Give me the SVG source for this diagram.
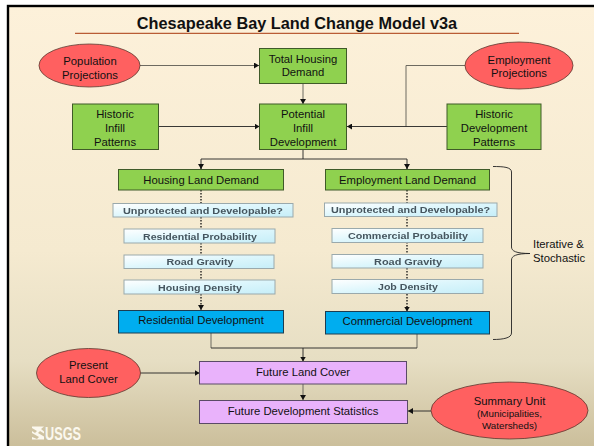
<svg xmlns="http://www.w3.org/2000/svg" width="594" height="446" viewBox="0 0 594 446">
<defs>
<linearGradient id="bg" x1="0" y1="0" x2="0" y2="1">
<stop offset="0" stop-color="#fdf1da"/><stop offset="0.55" stop-color="#f5ead0"/><stop offset="0.8" stop-color="#e6dec3"/><stop offset="1" stop-color="#cabd99"/>
</linearGradient>
<linearGradient id="lb" x1="0" y1="0" x2="1" y2="1">
<stop offset="0" stop-color="#ffffff"/><stop offset="0.5" stop-color="#dcf6fc"/><stop offset="1" stop-color="#c6eef8"/>
</linearGradient>
<marker id="a" markerWidth="6" markerHeight="6" refX="5" refY="3" orient="auto" markerUnits="userSpaceOnUse"><path d="M0 0L5 3L0 6z" fill="#111"/></marker>
<filter id="soft" x="-5%" y="-20%" width="110%" height="140%"><feGaussianBlur stdDeviation="0.35"/></filter>
</defs>
<style>
text{font-family:"Liberation Sans",Arial,sans-serif;font-size:11.3px;fill:#111;text-anchor:middle}
.red{fill:#ff6060;stroke:#5a3a30;stroke-width:.8}
.grn{fill:#8fd14f;stroke:#3f5a28;stroke-width:1}
.blu{fill:#00adef;stroke:#1c3c50;stroke-width:1}
.pur{fill:#e9b2fb;stroke:#5a4a66;stroke-width:1}
.lb{fill:url(#lb);stroke:#9aa9ac;stroke-width:1}
.sm{font-size:9px;font-weight:bold;fill:#45555e;filter:url(#soft)}
.c{fill:none;stroke:#222;stroke-width:.9}
.g{fill:none;stroke:#6d6a60;stroke-width:1}
.d{fill:none;stroke:#111;stroke-width:1.3;stroke-dasharray:1.5 1.5}
</style>
<rect x="0" y="0" width="594" height="446" fill="#fff"/>
<rect x="8" y="6" width="590" height="444" fill="url(#bg)" stroke="#000" stroke-width="2.4"/>
<g id="title">
<text x="297" y="29" style="font-size:16.3px;font-weight:bold">Chesapeake Bay Land Change Model v3a</text>
<line x1="75" y1="33.3" x2="519" y2="33.3" stroke="#a8380c" stroke-width="1"/>
</g>
<g id="connectors">
<path class="g" d="M140 65.5H259" marker-end="url(#a)"/>
<path class="g" d="M303 83V104" marker-end="url(#a)"/>
<path class="c" d="M158.500 126.500H259.500" marker-end="url(#a)"/>
<path class="g" d="M465 65.500H406V126.500"/>
<path class="c" d="M447 126.500H347" marker-end="url(#a)"/>
<path class="c" d="M303 149.500V159M201 169V159H407V169" />
<path d="M201 165V169" marker-end="url(#a)" class="c"/>
<path d="M407 165V169" marker-end="url(#a)" class="c"/>
<path class="d" d="M201 190V203M201 217V229M201 243V255M201 268V280M201 294V306"/>
<path class="c" d="M201 305V310" marker-end="url(#a)"/>
<path class="d" d="M407 190V203M407 216V228M407 242V254M407 268V279M407 294V307"/>
<path class="c" d="M407 306V311.500" marker-end="url(#a)"/>
<path class="g" d="M211 333V348M417 334V348"/>
<path class="c" d="M211 348H417M303 348V361.500" marker-end="url(#a)"/>
<path class="g" d="M303 384V400" marker-end="url(#a)"/>
<path class="c" d="M140.500 373H199.500" marker-end="url(#a)"/>
<path class="c" d="M431 411H408" marker-end="url(#a)"/>
<path class="c" d="M493 166.500C503 166.500 511.500 167 511.500 172V247C511.500 251 516 253.500 530 253.500C516 253.500 511.500 256 511.500 260V333C511.500 338 503 339.500 493 339.500"/>
</g>
<g id="population"><ellipse class="red" cx="89.500" cy="65.500" rx="50.500" ry="21.500"/><text x="90" y="65">Population</text><text x="90" y="79">Projections</text></g>
<g id="total-housing"><rect class="grn" x="259.500" y="48.500" width="87" height="35"/><text x="303" y="62.500">Total Housing</text><text x="303" y="76">Demand</text></g>
<g id="historic-infill"><rect class="grn" x="72.500" y="104" width="86" height="45.500"/><text x="115" y="118">Historic</text><text x="115" y="132">Infill</text><text x="115" y="146">Patterns</text></g>
<g id="potential"><rect class="grn" x="259.500" y="104" width="87" height="45.500"/><text x="303" y="118">Potential</text><text x="303" y="132">Infill</text><text x="303" y="146">Development</text></g>
<g id="employment"><ellipse class="red" cx="519" cy="65.500" rx="54" ry="23.500"/><text x="519" y="64">Employment</text><text x="519" y="77">Projections</text></g>
<g id="historic-dev"><rect class="grn" x="447" y="104" width="94" height="45.500"/><text x="494" y="118">Historic</text><text x="494" y="132">Development</text><text x="494" y="146">Patterns</text></g>
<g id="housing-demand"><rect class="grn" x="118.500" y="169.500" width="165" height="20.500"/><text x="201" y="184">Housing Land Demand</text></g>
<g id="unprotected-r"><rect class="lb" x="113" y="203.500" width="180" height="13.500"/><text class="sm" x="203" y="213.500" textLength="160" lengthAdjust="spacingAndGlyphs">Unprotected and Developable?</text></g>
<g id="res-prob"><rect class="lb" x="124" y="229" width="151" height="14"/><text class="sm" x="200" y="239.500" textLength="114" lengthAdjust="spacingAndGlyphs">Residential Probability</text></g>
<g id="road-r"><rect class="lb" x="124" y="255" width="150" height="13.500"/><text class="sm" x="200" y="265" textLength="67" lengthAdjust="spacingAndGlyphs">Road Gravity</text></g>
<g id="housing-density"><rect class="lb" x="124" y="280" width="151" height="14"/><text class="sm" x="200" y="290.500" textLength="84" lengthAdjust="spacingAndGlyphs">Housing Density</text></g>
<g id="residential"><rect class="blu" x="118.500" y="310.500" width="165" height="22.500"/><text x="201" y="324">Residential Development</text></g>
<g id="employment-demand"><rect class="grn" x="325.500" y="169.500" width="164" height="20.500"/><text x="407.500" y="184">Employment Land Demand</text></g>
<g id="unprotected-c"><rect class="lb" x="324.500" y="203" width="172.500" height="13.500"/><text class="sm" x="410.500" y="212.500" textLength="159" lengthAdjust="spacingAndGlyphs">Unprotected and Developable?</text></g>
<g id="com-prob"><rect class="lb" x="332" y="228.500" width="151" height="14"/><text class="sm" x="408" y="238.500" textLength="120" lengthAdjust="spacingAndGlyphs">Commercial Probability</text></g>
<g id="road-c"><rect class="lb" x="332" y="254.500" width="151" height="13.500"/><text class="sm" x="408" y="264.500" textLength="68" lengthAdjust="spacingAndGlyphs">Road Gravity</text></g>
<g id="job-density"><rect class="lb" x="332" y="279.500" width="151" height="14"/><text class="sm" x="408" y="290" textLength="60" lengthAdjust="spacingAndGlyphs">Job Density</text></g>
<g id="commercial"><rect class="blu" x="325.500" y="311.500" width="164" height="22.500"/><text x="407.500" y="325">Commercial Development</text></g>
<g id="iterative"><text x="533" y="248" style="text-anchor:start">Iterative &amp;</text><text x="533" y="262" style="text-anchor:start">Stochastic</text></g>
<g id="present"><ellipse class="red" cx="88.500" cy="373" rx="52" ry="24.500"/><text x="88.500" y="369">Present</text><text x="88.500" y="383">Land Cover</text></g>
<g id="future-cover"><rect class="pur" x="199.500" y="361.500" width="207" height="22.500"/><text x="303" y="376">Future Land Cover</text></g>
<g id="future-stats"><rect class="pur" x="199.500" y="400.500" width="208" height="23"/><text x="303" y="415">Future Development Statistics</text></g>
<g id="summary"><ellipse class="red" cx="509.500" cy="410.500" rx="78.500" ry="28.500"/><text x="509.500" y="405">Summary Unit</text><text x="509.500" y="417" style="font-size:9.800px">(Municipalities,</text><text x="509.500" y="429" style="font-size:9.800px">Watersheds)</text></g>
<g id="usgs">
<path d="M32 426.500H44L41 429L44 431.500V433.500L40 431L38 433L44 436.500V439.500H32V437L37 439L39 437L32 433V431L35 433L37 431L32 428z" fill="#fbf8ee"/>
<text x="45" y="439.500" textLength="36" lengthAdjust="spacingAndGlyphs" style="font-size:19px;font-weight:bold;fill:#fbf8ee;text-anchor:start">USGS</text>
</g>
</svg>
